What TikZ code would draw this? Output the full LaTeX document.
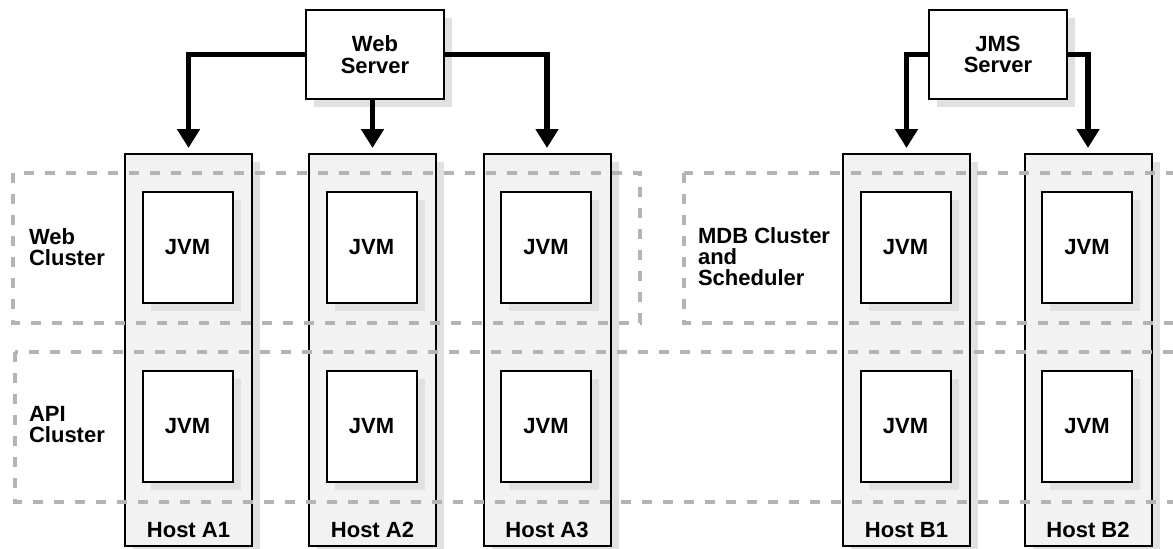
\documentclass[tikz,border=0pt]{standalone}
\usepackage{fontspec}
\setmainfont{Liberation Sans}
\usepackage{xcolor}
\usepackage{tikz}
\usetikzlibrary{arrows.meta, positioning, calc, shadows}
\definecolor{hostgray}{RGB}{242,242,242}
\definecolor{shadegray}{RGB}{225,225,225}
\definecolor{dashgray}{RGB}{180,180,180}
\tikzset{every node/.append style={align=center}}
\tikzset{
  shade/.style={drop shadow={shadow xshift=4pt, shadow yshift=-4pt, fill=shadegray, opacity=1}},
  srv/.style={rectangle, draw, fill=white, line width=1pt, shade,
    minimum width=69pt, minimum height=44.5pt, font=\fontsize{11}{10.8}\selectfont\bfseries},
  host/.style={rectangle, draw, fill=hostgray, line width=1pt, shade,
    minimum width=63.5pt, minimum height=196pt},
  jvm/.style={rectangle, draw, fill=white, line width=1pt, shade,
    minimum width=45pt, minimum height=55.5pt, font=\fontsize{11}{10.5}\selectfont\bfseries},
  hlbl/.style={font=\fontsize{11}{10.5}\selectfont\bfseries},
  clbl/.style={anchor=west, align=left, font=\fontsize{11}{10.5}\selectfont\bfseries},
  clus/.style={dashgray, line width=2.4pt, dash pattern=on 5pt off 5.5pt},
  arrow/.style={-{Triangle[length=9.5pt, width=11pt]}, line width=2.6pt, shorten >=2.5pt}
}
\begin{document}
\begin{tikzpicture}[x=0.5pt, y=-0.5pt]
  \useasboundingbox (0,0) rectangle (1173,548);
  \clip (0,0) rectangle (1173,548);
  % servers
  \node[srv] (ws) at (375,54.5) {Web\\Server};
  \node[srv] (jms) at (998,54.5) {JMS\\Server};
  % hosts with two JVMs each
  \foreach \n/\x/\t in {a1/188.5/A1, a2/372.5/A2, a3/547/A3, b1/906.5/B1, b2/1088/B2} {
    \node[host] (\n) at (\x,350) {};
    \node[jvm] (\n-top) at (\x-1,247.5) {JVM};
    \node[jvm] (\n-bot) at (\x-1,426.5) {JVM};
    \node[hlbl] (\n-lbl) at (\x,530) {Host \t};
  }
  % clusters
  \draw[clus] (13,173) rectangle (640,323);
  \draw[clus] (15,352) rectangle (1200,502);
  \draw[clus] (684,173) rectangle (1200,323);
  \node[clbl] (webc) at (22,247) {Web\\Cluster};
  \node[clbl] (apic) at (22,425) {API\\Cluster};
  \node[clbl] (mdbc) at (691,257) {MDB Cluster\\and\\Scheduler};
  % connections
  \draw[arrow] (ws.west) -| (a1.north);
  \draw[arrow] (a2.north |- ws.south) -- (a2.north);
  \draw[arrow] (ws.east) -| (a3.north);
  \draw[arrow] (jms.west) -| (b1.north);
  \draw[arrow] (jms.east) -| (b2.north);
\end{tikzpicture}
\end{document}
